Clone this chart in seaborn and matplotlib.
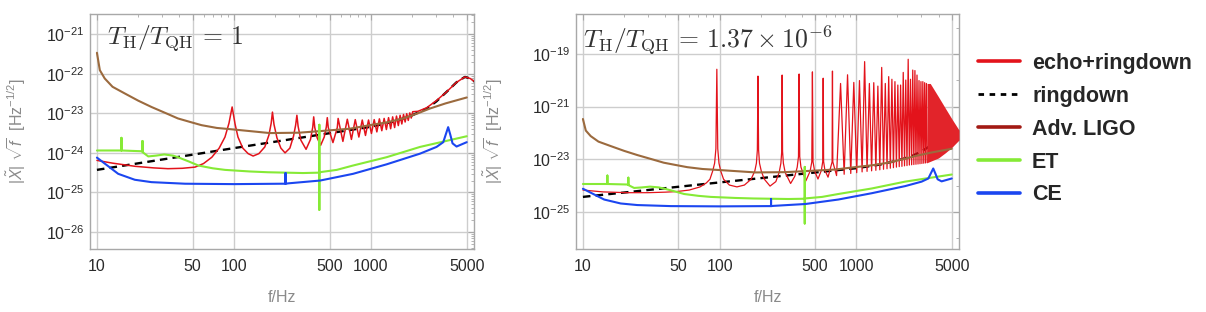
import numpy as np
import matplotlib
matplotlib.use('Agg')
import matplotlib.pyplot as plt
from matplotlib.lines import Line2D
from matplotlib import ticker
import seaborn as sns

sns.set_style('white')
plt.rcParams['font.family'] = ['Liberation Sans', 'DejaVu Sans']
plt.rcParams['mathtext.fontset'] = 'custom'
plt.rcParams['mathtext.rm'] = 'Liberation Sans'
plt.rcParams['mathtext.it'] = 'Liberation Sans:italic'
plt.rcParams['mathtext.bf'] = 'Liberation Sans:bold'

# detector curves (log10 of amplitude), same in both panels
ligo_f = [10, 10.5, 11.4, 13, 16, 20, 25, 32, 39, 48, 58, 75, 100, 140, 183, 300, 425, 700, 980, 1300, 1720, 2200, 2690, 3500, 5000]
ligo_lg = [-21.47, -21.91, -22.12, -22.33, -22.50, -22.68, -22.84, -23.00, -23.13, -23.22, -23.30, -23.37, -23.41, -23.46,
           -23.50, -23.49, -23.45, -23.39, -23.30, -23.23, -23.13, -23.00, -22.88, -22.75, -22.60]

et_f = [10, 14.7, 15.1, 15.1, 15.1, 18, 21.5, 21.5, 21.5, 23.7, 27, 31, 36, 39, 47, 55, 70, 86, 130, 177, 319,
        420, 420, 420, 420, 563, 740, 1300, 2280, 5000]
et_lg = [-23.94, -23.94, -23.94, -23.62, -23.94, -23.95, -23.96, -23.70, -23.98, -24.09, -24.07, -24.04, -24.07, -24.11,
         -24.22, -24.32, -24.39, -24.43, -24.47, -24.49, -24.51, -24.50, -23.29, -25.44, -24.49, -24.43, -24.32, -24.11,
         -23.85, -23.58]

ce_f = [10, 11.4, 14.3, 18.9, 25, 44, 100, 223, 238, 238, 238, 250, 425, 740, 1300, 2280, 3010, 3370, 3660, 3800,
        3940, 4215, 5000]
ce_lg = [-24.12, -24.27, -24.53, -24.68, -24.74, -24.78, -24.79, -24.78, -24.78, -24.51, -24.78, -24.77, -24.70, -24.53,
         -24.29, -24.02, -23.85, -23.73, -23.35, -23.55, -23.76, -23.84, -23.73]

ring_f = [10, 100, 1000, 1500, 2000, 2550, 3000, 3560, 4200, 4850, 5300, 5770]
ring_lg = [-24.43, -23.88, -23.34, -23.20, -23.05, -22.88, -22.70, -22.46, -22.22, -22.08, -22.12, -22.21]

# echo+ringdown, T_H/T_QH = 1
echo1_f = [10, 13, 19, 26, 33, 42, 52, 60, 69, 78, 86, 92, 97,
           102, 107, 116, 127, 138, 152, 168, 180, 187, 191,
           196, 206, 220, 236, 256, 272, 282, 288,
           294, 308, 336, 362, 376, 382,
           389, 405, 429, 456, 472, 480,
           488, 528, 568, 576, 624, 672, 720, 768, 816, 864, 912, 960, 1008, 1056, 1104, 1152, 1200, 1248,
           1296, 1344, 1392, 1440, 1488, 1536, 1584, 1632, 1680, 1728, 1776, 1824, 1872, 1920, 1968, 2016,
           2200, 2550, 3000, 3560, 4200, 4850, 5300, 5770]
echo1_lg = [-24.19, -24.26, -24.34, -24.38, -24.40, -24.39, -24.36, -24.27, -24.11, -23.88, -23.60, -23.25, -22.84,
            -23.28, -23.60, -23.88, -24.02, -24.08, -24.02, -23.85, -23.55, -23.25, -22.97,
            -23.28, -23.62, -23.88, -24.00, -23.88, -23.58, -23.30, -23.05,
            -23.33, -23.68, -23.91, -23.66, -23.35, -23.09,
            -23.36, -23.62, -23.81, -23.60, -23.35, -23.11,
            -23.36, -23.74, -23.36, -23.13, -23.71, -23.15, -23.66, -23.16, -23.60, -23.17, -23.56, -23.17, -23.51,
            -23.16, -23.47, -23.14, -23.44, -23.13, -23.41, -23.11, -23.39, -23.09, -23.36, -23.07, -23.31, -23.05,
            -23.27, -23.03, -23.22, -23.01, -23.18, -22.99, -23.12, -22.96,
            -22.95, -22.86, -22.68, -22.46, -22.22, -22.08, -22.12, -22.21]

# echo+ringdown, T_H/T_QH = 1.37e-6
echo2_f = [10, 14, 21, 30, 40, 48, 60, 72, 80, 85, 89, 92, 94, 95.5, 97, 99, 102, 107, 118, 134,
           152, 170, 181, 186, 189, 191, 193, 196, 202, 212, 234,
           258, 273, 281, 285, 287, 289, 293, 302, 331,
           355, 370, 378, 382, 386, 394, 428,
           460, 473, 478, 483, 496, 525,
           556, 569, 573, 577, 590, 622,
           666, 670, 674, 718,
           768, 816, 864, 912, 960, 1008, 1056, 1104, 1152, 1200, 1248, 1296, 1344, 1392, 1440, 1488, 1536, 1584,
           1632, 1680, 1728, 1776, 1824, 1872, 1920, 1968, 2016, 2064, 2112, 2160, 2208, 2256, 2304, 2352, 2400,
           2448, 2496, 2544, 2592, 2640, 2688, 2736, 2784, 2832, 2880, 2928, 2976, 3024, 3072, 3120, 3168, 3216,
           3264, 3312]
echo2_lg = [-24.17, -24.24, -24.27, -24.27, -24.25, -24.23, -24.17, -24.05, -23.90, -23.76, -23.45, -23.15, -22.60,
            -19.58, -22.60, -23.15, -23.45, -23.76, -23.98, -24.05,
            -23.98, -23.76, -23.45, -23.15, -22.65, -19.84, -22.65, -23.15, -23.45, -23.75, -24.02,
            -23.85, -23.50, -23.15, -22.70, -19.80, -22.70, -23.15, -23.50, -23.92,
            -23.65, -23.30, -22.90, -19.76, -22.90, -23.30, -23.82,
            -23.45, -23.10, -19.68, -23.10, -23.45, -23.75,
            -23.42, -23.08, -19.92, -23.08, -23.42, -23.68,
            -23.10, -19.65, -23.10, -23.62,
            -20.12, -23.57, -19.79, -23.54, -20.08, -23.51, -20.01, -23.48, -19.29, -23.46, -20.12, -23.44, -20.09,
            -23.42, -20.22, -23.40, -19.51, -23.38, -20.12, -23.36, -19.86, -23.34, -19.96, -23.32, -20.05, -23.30,
            -20.18, -23.28, -20.18, -23.27, -19.70, -23.25, -19.99, -23.24, -19.20, -23.22, -19.96, -23.21, -19.61,
            -23.20, -19.63, -23.19, -19.80, -23.18, -20.01, -23.17, -20.05, -23.16, -20.05, -23.15, -20.09, -23.14,
            -20.12, -23.13]
# dense, unresolved echo band at high frequency (right panel)
band_f = [3300, 3480, 4000, 4500, 5000, 5650]
band_top = [-20.12, -20.12, -20.63, -21.07, -21.46, -21.89]
band_bot = [-23.13, -23.08, -22.95, -22.75, -22.55, -22.27]

titles = [r'$T_{\rm H}/T_{\rm QH}\, =\, 1$', r'$T_{\rm H}/T_{\rm QH}\, =\, 1.37 \times 10^{-6}$']
legend_labels = ['echo+ringdown', 'ringdown', 'Adv. LIGO', 'ET', 'CE']

RED = '#e3131b'
BROWN = '#9b6a3e'
LIGO_LEG = '#a21a14'
GREEN = '#86ea36'
BLUE = '#1b46f0'
GRID = '#cdcdcd'
FRAME = '#a8a8a8'


def draw(ax, f, lg, color, lw, z, **kw):
    sns.lineplot(x=np.asarray(f, float), y=10.0 ** np.asarray(lg), ax=ax, color=color, linewidth=lw,
                 estimator=None, sort=False, zorder=z, **kw)


W, H = 1206, 312
fig = plt.figure(figsize=(W / 100, H / 100), dpi=100)
ax1 = fig.add_axes([90 / W, 63 / H, 384 / W, 235 / H])
ax2 = fig.add_axes([576 / W, 63 / H, 383 / W, 235 / H])

for ax in (ax1, ax2):
    ax.set_xscale('log')
    ax.set_yscale('log')

draw(ax1, echo1_f, echo1_lg, RED, 1.1, 4)
draw(ax2, echo2_f, echo2_lg, RED, 0.9, 4)
ax2.fill_between(band_f, 10.0 ** np.array(band_bot), 10.0 ** np.array(band_top), color='#e2242a',
                 lw=0, zorder=4)

for ax in (ax1, ax2):
    draw(ax, ring_f, ring_lg, 'black', 1.7, 3, linestyle=(0, (3.2, 2.2)))
    draw(ax, ligo_f, ligo_lg, BROWN, 1.5, 5)
    draw(ax, et_f, et_lg, GREEN, 1.5, 6)
    draw(ax, ce_f, ce_lg, BLUE, 1.5, 7)

ax1.set_ylim(10 ** -26.43, 10 ** -20.49)
ax2.set_ylim(10 ** -26.41, 10 ** -17.48)

xmaj = [10, 50, 100, 500, 1000, 5000]
xmin = [20, 30, 40, 60, 70, 80, 90, 200, 300, 400, 600, 700, 800, 900, 2000, 3000, 4000]
for ax in (ax1, ax2):
    ax.set_xlim(8.9, 5650)
    ax.xaxis.set_major_locator(ticker.FixedLocator(xmaj))
    ax.xaxis.set_major_formatter(ticker.FixedFormatter([str(v) for v in xmaj]))
    ax.xaxis.set_minor_locator(ticker.FixedLocator(xmin))
    ax.xaxis.set_minor_formatter(ticker.NullFormatter())
    ax.grid(True, which='major', color=GRID, lw=1.0)
    ax.set_axisbelow(True)
    ax.tick_params(which='both', direction='in', top=True, right=True, colors=FRAME,
                   labelcolor='#2a2a2a', labelsize=11.5)
    ax.tick_params(which='major', length=4, width=0.8)
    ax.tick_params(which='minor', length=2, width=0.6)
    ax.tick_params(axis='x', pad=7)
    ax.tick_params(axis='y', pad=4)
    for s in ax.spines.values():
        s.set_color(FRAME)
        s.set_linewidth(1.0)
    ax.set_xlabel('f/Hz', color='#8a8a8a', fontsize=11.5)
    ax.set_ylabel(r'$|\tilde{X}|\ \sqrt{f}\ \ [\mathrm{Hz}^{-1/2}]$', color='#8a8a8a', fontsize=11.5)
    ax.xaxis.set_label_coords(0.5, -0.175)

ax1.yaxis.set_major_locator(ticker.FixedLocator([10.0 ** e for e in range(-26, -20)]))
ax1.yaxis.set_minor_locator(ticker.LogLocator(base=10, subs=(2, 3, 4, 5, 6, 7, 8, 9), numticks=20))
ax1.yaxis.set_minor_formatter(ticker.NullFormatter())
ax2.yaxis.set_major_locator(ticker.FixedLocator([10.0 ** e for e in (-25, -23, -21, -19)]))
ax2.yaxis.set_minor_locator(ticker.FixedLocator([10.0 ** e for e in (-26, -24, -22, -20, -18)]))
ax2.yaxis.set_minor_formatter(ticker.NullFormatter())
for ax in (ax1, ax2):
    ax.yaxis.set_major_formatter(ticker.LogFormatterSciNotation())

ax1.yaxis.set_label_coords(-62 / 384, 0.5)
ax2.yaxis.set_label_coords(-71 / 383, 0.5)

ax1.text(0.044, 0.96, titles[0], transform=ax1.transAxes, va='top', ha='left', fontsize=18.5,
         math_fontfamily='cm', color='#333333')
ax2.text(0.018, 0.96, titles[1], transform=ax2.transAxes, va='top', ha='left', fontsize=18.5,
         math_fontfamily='cm', color='#333333')

handles = [Line2D([], [], color=RED, lw=2.6),
           Line2D([], [], color='black', lw=2.0, linestyle=(0, (2.0, 2.0))),
           Line2D([], [], color=LIGO_LEG, lw=2.6),
           Line2D([], [], color=GREEN, lw=2.6),
           Line2D([], [], color=BLUE, lw=2.6)]
fig.legend(handles, legend_labels, loc='upper left', bbox_to_anchor=(978 / W, 1 - 53 / H), frameon=False,
           prop={'weight': 'bold', 'size': 15.5}, handlelength=1.95, handletextpad=0.56, labelspacing=0.55,
           borderpad=0, borderaxespad=0)

fig.savefig('out.png', dpi=100)
